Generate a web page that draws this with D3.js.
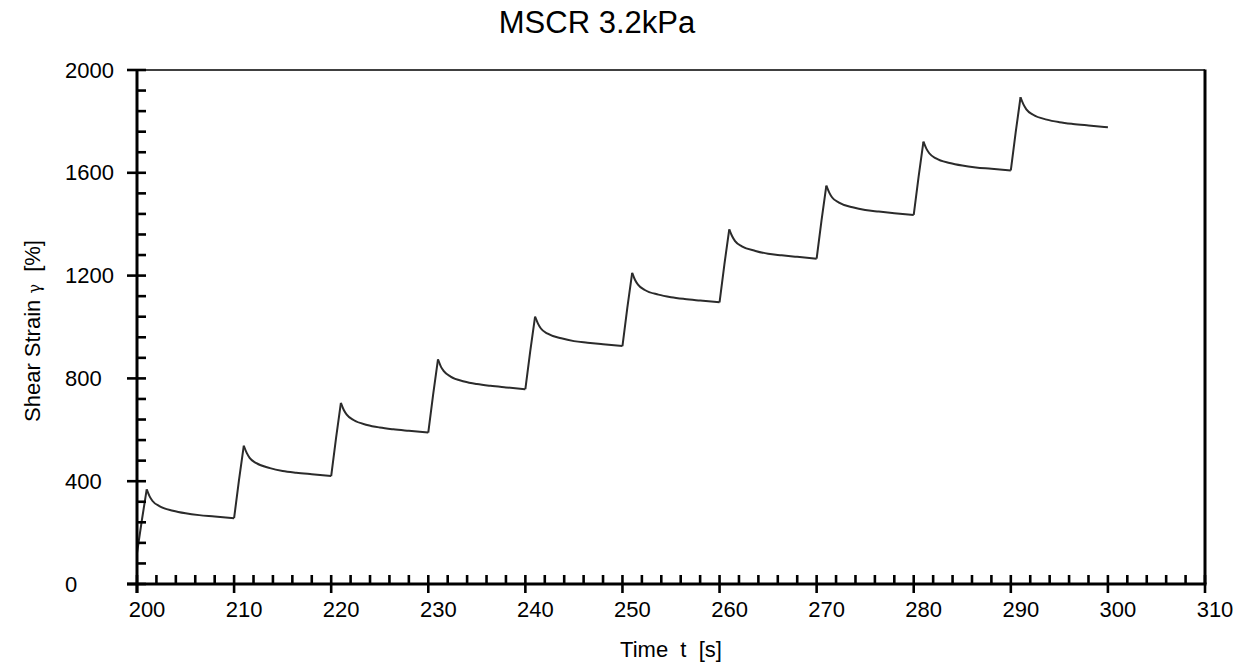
<!DOCTYPE html>
<html>
<head>
<meta charset="utf-8">
<script src="https://cdn.jsdelivr.net/npm/d3@7"></script>
<style>
  html, body { margin: 0; padding: 0; background: #fff; }
  svg { display: block; font-family: "Liberation Sans", Arial, sans-serif; }
</style>
</head>
<body>
<svg id="chart" width="1256" height="662"></svg>
<script>
// ---- data ----
const timeS = [
  200, 200.5, 201, 201.3, 201.6, 202.3, 203.7, 205, 206.4, 208, 210,
  210.5, 211, 211.3, 211.6, 212.3, 213.7, 215, 216.4, 218, 220,
  220.5, 221, 221.3, 221.6, 222.3, 223.7, 225, 226.4, 228, 230,
  230.5, 231, 231.3, 231.6, 232.3, 233.7, 235, 236.4, 238, 240,
  240.5, 241, 241.3, 241.6, 242.3, 243.7, 245, 246.4, 248, 250,
  250.5, 251, 251.3, 251.6, 252.3, 253.7, 255, 256.4, 258, 260,
  260.5, 261, 261.3, 261.6, 262.3, 263.7, 265, 266.4, 268, 270,
  270.5, 271, 271.3, 271.6, 272.3, 273.7, 275, 276.4, 278, 280,
  280.5, 281, 281.3, 281.6, 282.3, 283.7, 285, 286.4, 288, 290,
  290.5, 291, 291.3, 291.6, 292.3, 293.7, 295, 296.4, 298, 300
];
const strainPct = [
  120, 248, 368, 341, 323, 303, 285, 275, 268, 263, 256,
  403, 538, 510, 491, 470, 451, 440, 433, 427, 420,
  568, 705, 677, 659, 638, 619, 609, 602, 596, 589,
  737, 874, 846, 828, 807, 788, 778, 771, 765, 758,
  905, 1040, 1013, 994, 974, 956, 945, 939, 933, 926,
  1074, 1211, 1183, 1165, 1144, 1126, 1116, 1109, 1103, 1096,
  1244, 1380, 1353, 1334, 1314, 1296, 1285, 1279, 1273, 1266,
  1414, 1550, 1523, 1504, 1484, 1466, 1455, 1449, 1443, 1436,
  1584, 1721, 1694, 1676, 1656, 1638, 1628, 1621, 1616, 1609,
  1757, 1894, 1866, 1847, 1826, 1807, 1797, 1790, 1784, 1777
];
const xMajorTicks = [200, 210, 220, 230, 240, 250, 260, 270, 280, 290, 300, 310];
const yMajorTicks = [0, 400, 800, 1200, 1600, 2000];
const titleText = "MSCR 3.2kPa";

// ---- layout ----
const svg = d3.select("#chart");
const L = 137, R = 1205, T = 70, B = 584;
const x = d3.scaleLinear().domain([200, 310]).range([L, R]);
const y = d3.scaleLinear().domain([0, 2000]).range([B, T]);

// frame: top thin, right thick
svg.append("line").attr("x1", L).attr("x2", R).attr("y1", T).attr("y2", T)
  .attr("stroke", "#000").attr("stroke-width", 1.5);
svg.append("line").attr("x1", R).attr("x2", R).attr("y1", T - 0.5).attr("y2", B)
  .attr("stroke", "#000").attr("stroke-width", 3);

// data line: creep segments linear, recovery segments smooth
const pts = timeS.map((t, i) => [t, strainPct[i]]);
const segs = [];
let cur = [pts[0]];
for (let i = 1; i < pts.length; i++) {
  cur.push(pts[i]);
  const r = Math.round((pts[i][0] - 200) * 10) % 100;
  if (r === 0 || r === 10) { segs.push(cur); cur = [pts[i]]; }
}
if (cur.length > 1) segs.push(cur);
const lineLin = d3.line().x(d => x(d[0])).y(d => y(d[1])).curve(d3.curveLinear);
const lineMon = d3.line().x(d => x(d[0])).y(d => y(d[1])).curve(d3.curveMonotoneX);
const g = svg.append("g");
segs.forEach(s => {
  const isRecovery = s.length > 3;
  g.append("path").attr("d", (isRecovery ? lineMon : lineLin)(s))
    .attr("fill", "none").attr("stroke", "#2b2b2b").attr("stroke-width", 2)
    .attr("stroke-linejoin", "miter");
});

// x axis
const xAxis = svg.append("g").attr("transform", `translate(0,${B})`);
xAxis.call(d3.axisBottom(x).tickValues(d3.range(200, 311, 2)).tickSize(0).tickFormat(""));
xAxis.select(".domain").attr("stroke", "#000").attr("stroke-width", 3)
  .attr("d", `M${L - 10},0H${R + 1.5}`);
d3.range(200, 311, 2).forEach(v => {
  const major = xMajorTicks.includes(v);
  xAxis.append("line").attr("x1", x(v)).attr("x2", x(v))
    .attr("y1", -9).attr("y2", major ? 9 : 0)
    .attr("stroke", "#000").attr("stroke-width", 2.6);
});
xMajorTicks.forEach(v => {
  xAxis.append("text").attr("x", x(v) + 10).attr("y", 33).attr("text-anchor", "middle")
    .attr("font-size", 22).attr("fill", "#000").text(v);
});

// y axis
const yAxis = svg.append("g").attr("transform", `translate(${L},0)`);
yAxis.call(d3.axisLeft(y).tickValues(d3.range(0, 2001, 80)).tickSize(0).tickFormat(""));
yAxis.select(".domain").attr("stroke", "#000").attr("stroke-width", 3)
  .attr("d", `M0,${B + 9}V${T}`);
d3.range(0, 2001, 80).forEach(v => {
  const major = yMajorTicks.includes(v);
  yAxis.append("line").attr("y1", y(v)).attr("y2", y(v))
    .attr("x1", major ? -10 : 0).attr("x2", 9)
    .attr("stroke", "#000").attr("stroke-width", 2.6);
});
yMajorTicks.forEach(v => {
  yAxis.append("text").attr("x", 65 - L).attr("y", y(v) + 7.5).attr("text-anchor", "start")
    .attr("font-size", 22).attr("fill", "#000").text(v);
});

// title
svg.append("text").attr("x", 597).attr("y", 33).attr("text-anchor", "middle")
  .attr("font-size", 31).attr("fill", "#000").text(titleText);

// x axis title
svg.append("text").attr("x", 671).attr("y", 657).attr("text-anchor", "middle")
  .attr("font-size", 22).attr("fill", "#000").attr("xml:space", "preserve")
  .text("Time  t  [s]");

// y axis title
const yt = svg.append("text").attr("transform", "translate(40,331) rotate(-90)")
  .attr("text-anchor", "middle").attr("font-size", 22).attr("fill", "#000")
  .attr("xml:space", "preserve");
yt.append("tspan").text("Shear Strain ");
yt.append("tspan").attr("font-size", 16).attr("font-family", "DejaVu Serif").text("γ");
yt.append("tspan").text("  [%]");
</script>
</body>
</html>
